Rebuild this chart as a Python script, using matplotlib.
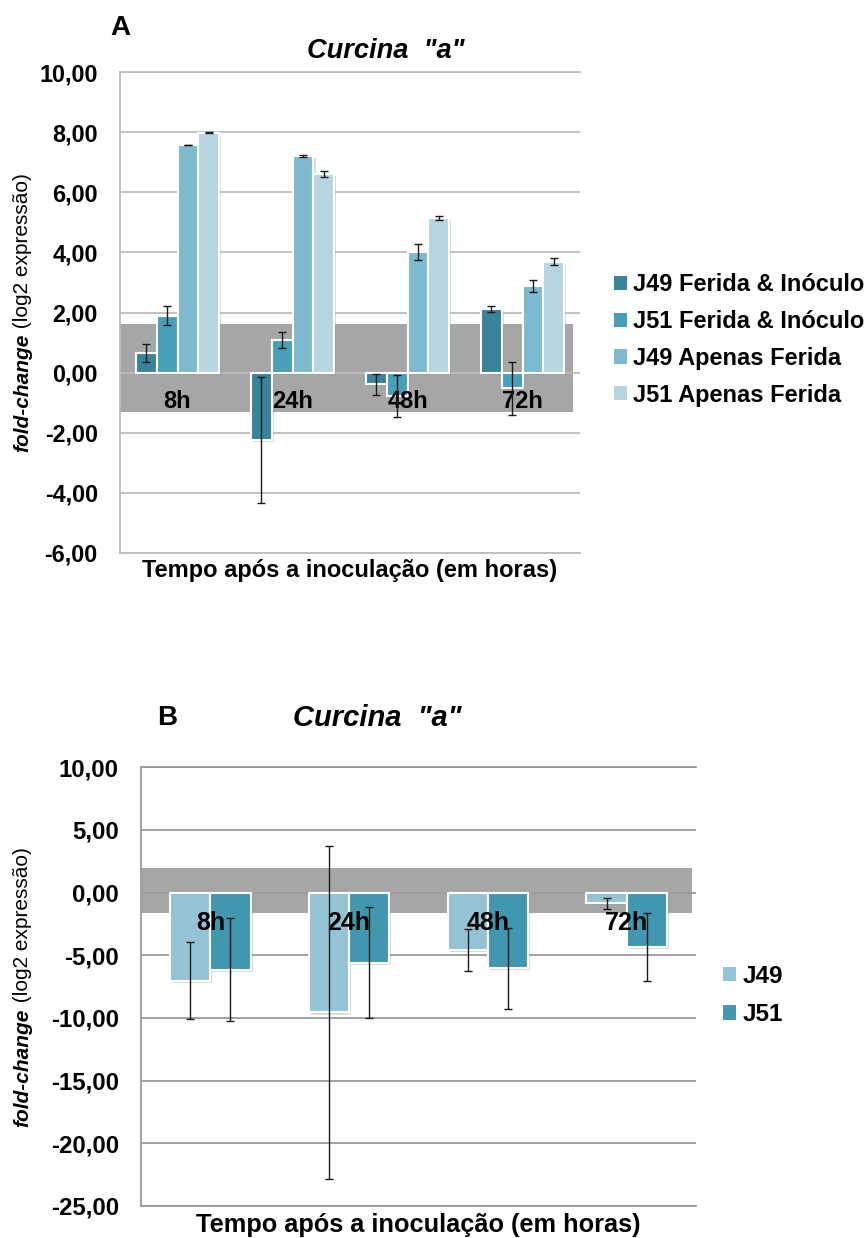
import matplotlib
matplotlib.use('Agg')
import matplotlib.pyplot as plt
import matplotlib.patheffects as pe
from matplotlib.patches import Patch
from matplotlib.ticker import FuncFormatter
import numpy as np

plt.rcParams['font.family'] = ['Liberation Sans', 'DejaVu Sans']

# ---------------- data ----------------
timepoints = ['8h', '24h', '48h', '72h']

# Panel A
a_labels = ['J49 Ferida & Inóculo', 'J51 Ferida & Inóculo',
            'J49 Apenas Ferida', 'J51 Apenas Ferida']
a_j49_fi = [0.65, -2.24, -0.39, 2.11]
a_j49_fi_err = [0.30, 2.10, 0.35, 0.09]
a_j51_fi = [1.89, 1.08, -0.78, -0.53]
a_j51_fi_err = [0.32, 0.27, 0.70, 0.87]
a_j49_af = [7.58, 7.21, 4.02, 2.89]
a_j49_af_err = [0.01, 0.04, 0.27, 0.20]
a_j51_af = [7.99, 6.61, 5.15, 3.69]
a_j51_af_err = [0.02, 0.09, 0.08, 0.11]
a_band = [-1.33, 1.61]
a_yticks = [-6, -4, -2, 0, 2, 4, 6, 8, 10]

# Panel B
b_labels = ['J49', 'J51']
b_j49 = [-7.01, -9.56, -4.57, -0.85]
b_j49_err = [3.10, 13.30, 1.66, 0.45]
b_j51 = [-6.16, -5.58, -6.03, -4.33]
b_j51_err = [4.10, 4.45, 3.24, 2.74]
b_band = [-1.64, 1.94]
b_yticks = [-25, -20, -15, -10, -5, 0, 5, 10]

title_text = 'Curcina  "a"'
xlabel_text = 'Tempo após a inoculação (em horas)'

# ---------------- style ----------------
a_colors = ['#38849A', '#47A0B8', '#7DB9CF', '#B6D5E0']
b_colors = ['#93C3D5', '#4297B0']
band_color = '#A6A6A6'

W, H = 868, 1238
fig = plt.figure(figsize=(W / 100, H / 100), dpi=100)


def fmt(v, pos):
    return f"{v:.2f}".replace('.', ',')


shadow = [pe.SimplePatchShadow(offset=(1.5, -1.5), shadow_rgbFace='#888888', alpha=0.3), pe.Normal()]


def style_axes(ax, yticks, gridcolor, tick_fs, pad):
    ax.set_ylim(yticks[0], yticks[-1])
    ax.set_yticks(yticks)
    ax.yaxis.set_major_formatter(FuncFormatter(fmt))
    ax.set_xticks([])
    ax.set_xlim(-0.5, 3.5)
    ax.yaxis.grid(True, color=gridcolor, lw=1.3)
    ax.set_axisbelow(True)
    ax.spines['right'].set_visible(False)
    for s in ['left', 'top', 'bottom']:
        ax.spines[s].set_color(gridcolor)
        ax.spines[s].set_linewidth(1.3)
    ax.tick_params(axis='y', length=0, pad=pad, labelsize=tick_fs)
    for lab in ax.get_yticklabels():
        lab.set_fontweight('bold')


def ylabel_two_part(fig, xpx, ycenter_px, fs):
    # "fold-change" bold italic, remainder regular, reading bottom-to-top
    renderer = fig.canvas.get_renderer()
    t1 = fig.text(xpx / W, 0.5, 'fold-change', rotation=90, rotation_mode='anchor',
                  ha='left', va='center', fontsize=fs, fontweight='bold', fontstyle='italic')
    t2 = fig.text(xpx / W, 0.5, ' (log2 expressão)', rotation=90, rotation_mode='anchor',
                  ha='left', va='center', fontsize=fs)
    h1 = t1.get_window_extent(renderer).height
    h2 = t2.get_window_extent(renderer).height
    total = h1 + h2
    y0 = (H - ycenter_px) - total / 2
    t1.set_position((xpx / W, y0 / H))
    t2.set_position((xpx / W, (y0 + h1) / H))


x = np.arange(len(timepoints))

# ---------------- Panel A ----------------
axA = fig.add_axes([120 / W, 1 - 552.7 / H, 460 / W, 480.4 / H])
style_axes(axA, a_yticks, '#BDBDBD', 16.8, 16)
axA.axhspan(a_band[0], a_band[1], xmin=0.0, xmax=0.984, color=band_color, zorder=0.3, lw=0)

wA = 0.182
a_vals = [a_j49_fi, a_j51_fi, a_j49_af, a_j51_af]
a_errs = [a_j49_fi_err, a_j51_fi_err, a_j49_af_err, a_j51_af_err]
for i, (vals, errs, c) in enumerate(zip(a_vals, a_errs, a_colors)):
    xs = x + (i - 1.5) * wA
    bars = axA.bar(xs, vals, wA, color=c, edgecolor='white', linewidth=1.5, zorder=2)
    for b in bars:
        b.set_path_effects(shadow)
    axA.errorbar(xs, vals, yerr=errs, fmt='none', ecolor='#1a1a1a', elinewidth=1.0,
                 capsize=2.6, capthick=1.0, zorder=4)
for xi, lab in zip(x, timepoints):
    axA.text(xi, -0.95, lab, ha='center', va='center', fontsize=17, fontweight='bold', zorder=3)

fig.text(120.5 / W, 1 - 28 / H, 'A', fontsize=20, fontweight='bold', ha='center', va='center')
fig.text(385.5 / W, 1 - 51 / H, title_text, fontsize=19.6, fontweight='bold', fontstyle='italic',
         ha='center', va='center')
fig.text(350 / W, 1 - 571 / H, xlabel_text, fontsize=17, fontweight='bold', ha='center', va='center')

hA = [Patch(facecolor=c, edgecolor='none') for c in a_colors]
fig.legend(hA, a_labels, loc='center left', bbox_to_anchor=(614 / W, 1 - 340 / H),
           frameon=False, prop={'weight': 'bold', 'size': 17}, handlelength=0.55,
           handleheight=0.55, handletextpad=0.25, labelspacing=0.58, borderpad=0,
           borderaxespad=0)

# ---------------- Panel B ----------------
axB = fig.add_axes([141 / W, 1 - 1206 / H, 555 / W, (1206 - 767.3) / H])
style_axes(axB, b_yticks, '#9A9A9A', 17.3, 16)
axB.axhspan(b_band[0], b_band[1], xmin=0.0, xmax=0.992, color=band_color, zorder=0.3, lw=0)

wB = 0.29
b_vals = [b_j49, b_j51]
b_errs = [b_j49_err, b_j51_err]
for i, (vals, errs, c) in enumerate(zip(b_vals, b_errs, b_colors)):
    xs = x + (i - 0.5) * wB
    bars = axB.bar(xs, vals, wB, color=c, edgecolor='white', linewidth=1.5, zorder=2)
    for b in bars:
        b.set_path_effects(shadow)
    axB.errorbar(xs, vals, yerr=errs, fmt='none', ecolor='#1a1a1a', elinewidth=1.0,
                 capsize=3.2, capthick=1.0, zorder=4)
for xi, lab in zip(x, timepoints):
    axB.text(xi, -2.45, lab, ha='center', va='center', fontsize=18, fontweight='bold', zorder=3)

fig.text(167.5 / W, 1 - 718 / H, 'B', fontsize=20, fontweight='bold', ha='center', va='center')
fig.text(377 / W, 1 - 718 / H, title_text, fontsize=21, fontweight='bold', fontstyle='italic',
         ha='center', va='center')
fig.text(418.5 / W, 1 - 1225 / H, xlabel_text, fontsize=18.3, fontweight='bold', ha='center', va='center')

hB = [Patch(facecolor=c, edgecolor='none') for c in b_colors]
fig.legend(hB, b_labels, loc='center left', bbox_to_anchor=(723 / W, 1 - 995.5 / H),
           frameon=False, prop={'weight': 'bold', 'size': 17.5}, handlelength=0.55,
           handleheight=0.55, handletextpad=0.25, labelspacing=0.65, borderpad=0,
           borderaxespad=0)

# y labels
ylabel_two_part(fig, 23, 312.5, 15)
ylabel_two_part(fig, 23, 987, 15)

fig.savefig('out.png', dpi=100)
